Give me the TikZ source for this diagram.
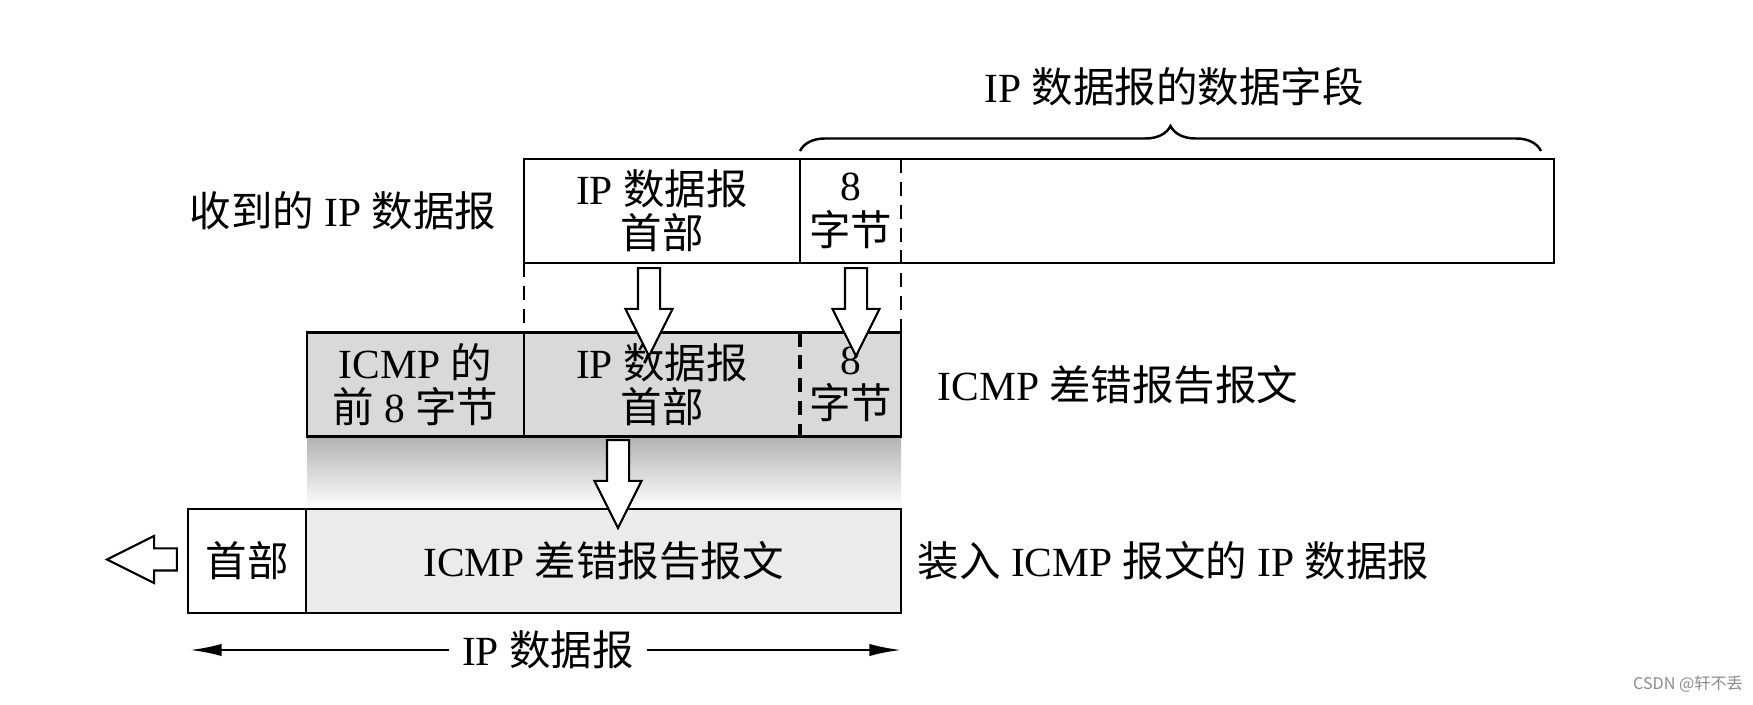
\documentclass[tikz,border=0pt]{standalone}
\usepackage{fontspec}
\setmainfont{Liberation Serif}
\newfontfamily\cjk{Noto Sans CJK SC}
\newcommand{\zht}[1]{{\cjk #1}}
\usepackage{tikz}
\usetikzlibrary{positioning,arrows.meta,shapes.arrows,decorations.pathreplacing}
\definecolor{cellgray}{gray}{0.85}
\definecolor{cellpale}{gray}{0.92}
\definecolor{markgray}{gray}{0.55}

\begin{document}
\begin{tikzpicture}[
  font=\fontsize{11.8}{12.6}\selectfont,
  cell/.style={rectangle,inner sep=0pt,outer sep=0pt,minimum height=1.04cm,align=center},
  graycell/.style={cell,fill=cellgray},
  palecell/.style={cell,fill=cellpale},
  boxline/.style={line width=0.8pt},
  dashlink/.style={line width=0.7pt,dash pattern=on 4pt off 2.5pt},
  blockarr/.style={single arrow,draw,fill=white,line width=0.6pt,inner sep=0.1cm,single arrow head extend=0.125cm,single arrow tip angle=53,minimum height=0.88cm},
  sidelabel/.style={inner sep=0pt},
  dimarr/.style={-{Latex[length=9pt,width=3.5pt]},line width=0.7pt},
]
\useasboundingbox (0,0) rectangle (17.53,7.05);

% received IP datagram (top row)
\node[cell,minimum width=2.76cm] (rhdr) at (6.62,4.94) {IP \zht{数据报}\\\zht{首部}};
\node[cell,minimum width=1.01cm,right=0pt of rhdr] (reight) {8\\\zht{字节}};
\node[cell,minimum width=6.53cm,right=0pt of reight] (rdata) {};
\node[sidelabel,left=0.27cm of rhdr] (rlabel) {\zht{收到的} IP \zht{数据报}};

% ICMP error message (middle row)
\node[graycell,minimum width=2.76cm] (mhdr) at (6.62,3.205) {IP \zht{数据报}\\\zht{首部}};
\node[graycell,minimum width=2.17cm,left=0pt of mhdr] (mfirst) {ICMP \zht{的}\\\zht{前} 8 \zht{字节}};
\node[graycell,minimum width=1.01cm,right=0pt of mhdr] (meight) {8\\\zht{字节}};
\node[sidelabel,right=0.36cm of meight] (mlabel) {ICMP \zht{差错报告报文}};

% IP datagram carrying the ICMP message (bottom row)
\node[palecell,minimum width=5.95cm] (bicmp) at (6.035,1.44) {ICMP \zht{差错报告报文}};
\node[cell,minimum width=1.18cm,left=0pt of bicmp] (bhdr) {\zht{首部}};
\node[sidelabel,right=0.16cm of bicmp] (blabel) {\zht{装入} ICMP \zht{报文的} IP \zht{数据报}};

% shadow under the middle row
\shade[top color=gray!60,bottom color=white] (mfirst.south west) rectangle (meight.south east |- bicmp.north);

% outlines
\draw[boxline] (rhdr.north west) rectangle (rdata.south east);
\draw[boxline] (rhdr.north east) -- (rhdr.south east);
\draw[dashlink] (reight.north east) -- (meight.north east);
\draw[dashlink] (rhdr.south west) -- (mhdr.north west);
\draw[boxline] (mfirst.north west) rectangle (meight.south east);
\draw[boxline] (mfirst.north east) -- (mfirst.south east);
\draw[dashlink,line width=1pt] (meight.north west) -- (meight.south west);
\draw[boxline] (bhdr.north west) rectangle (bicmp.south east);
\draw[boxline] (bhdr.north east) -- (bhdr.south east);

% hollow arrows
\node[blockarr,shape border rotate=270] (arrhdr) at (6.49,4.04) {};
\node[blockarr,shape border rotate=270] (arreight) at (8.56,4.04) {};
\node[blockarr,shape border rotate=270] (arricmp) at (6.18,2.32) {};
\node[blockarr,shape border rotate=180,minimum height=0.70cm] (arrout) at (1.53,1.455) {};

% brace over the data field
\coordinate (brL) at (8.00,5.54);
\coordinate (brR) at (15.41,5.54);
\draw[line width=0.7pt,decorate,decoration={brace,amplitude=0.25cm}] (brL) -- (brR);
\node[sidelabel] (datalbl) at (11.74,6.18) {IP \zht{数据报的数据字段}};

% length of the IP datagram
\coordinate (dimL) at (1.90,0.55);
\coordinate (dimR) at (9.01,0.55);
\node[sidelabel] (dimlbl) at (5.48,0.55) {IP \zht{数据报}};
\draw[dimarr] ([xshift=-0.12cm]dimlbl.west) -- (dimL);
\draw[dimarr] ([xshift=0.12cm]dimlbl.east) -- (dimR);

\node[font=\cjk\fontsize{4.6}{5}\selectfont,text=markgray] (mark) at (16.88,0.21) {CSDN @轩不丢};
\end{tikzpicture}
\end{document}
